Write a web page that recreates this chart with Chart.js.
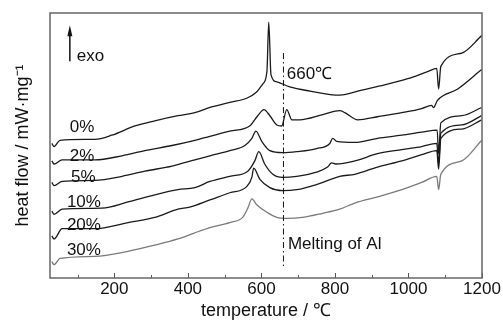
<!DOCTYPE html>
<html lang="en">
<head>
    <meta charset="UTF-8">
    <title>DSC curves</title>
    <script src="https://cdn.jsdelivr.net/npm/chart.js"></script>
    <style>
        body {
            margin: 0;
            background: white;
        }
        .chart-container {
            width: 503px;
            height: 322px;
        }
    </style>
</head>
<body>
    <div class="chart-container">
        <canvas id="dscChart"></canvas>
    </div>
    <script>
        // data (heat flow in arbitrary units, exo up)
        const seriesNames = ['0%', '2%', '5%', '10%', '20%', '30%'];
        const xTicks = [200, 400, 600, 800, 1000, 1200];
        const xMinorTicks = [100, 300, 500, 700, 900, 1100];

        const temp0 = [30, 36, 52, 147, 193, 256, 310, 373, 419, 460, 514, 560, 587, 604, 615, 620, 626, 642, 677, 732, 813, 873, 935, 998, 1052, 1077, 1082, 1088, 1145, 1199];
        const flow0 = [13.1, 12.8, 13.4, 13.5, 13.9, 14.8, 15.3, 15.8, 16.1, 16.6, 17.1, 17.5, 18.1, 18.9, 20.1, 24.9, 19.8, 19.1, 18.6, 18.2, 17.8, 18.3, 18.8, 19.4, 20.1, 20.4, 18.4, 20.6, 21.9, 23.6];

        const temp2 = [30, 36, 58, 147, 221, 283, 357, 419, 460, 514, 568, 590, 607, 623, 642, 655, 669, 683, 704, 767, 813, 827, 862, 916, 982, 1036, 1063, 1068, 1079, 1134, 1199];
        const flow2 = [11.4, 11.1, 11.5, 11.5, 11.9, 12.4, 12.9, 13.4, 13.8, 14.3, 14.8, 15.8, 16.4, 15.8, 14.9, 14.8, 16.4, 15.4, 15.4, 15.9, 16.3, 16.1, 15.4, 15.7, 16.1, 16.5, 16.8, 16.6, 17.3, 18.4, 20.3];

        const temp5 = [30, 36, 58, 147, 221, 283, 357, 419, 460, 514, 555, 574, 585, 601, 623, 658, 696, 750, 786, 794, 805, 854, 916, 982, 1036, 1078, 1082, 1088, 1145, 1199];
        const flow5 = [9.3, 9.0, 9.4, 9.5, 9.9, 10.4, 10.9, 11.5, 11.9, 12.4, 12.9, 13.6, 14.3, 13.3, 12.4, 12.2, 12.3, 12.6, 13.1, 13.6, 13.3, 13.2, 13.6, 13.9, 14.2, 14.4, 12.1, 15.1, 15.8, 16.6];

        const temp10 = [30, 36, 58, 166, 237, 310, 373, 419, 460, 514, 563, 582, 593, 609, 631, 658, 696, 750, 780, 791, 802, 854, 916, 982, 1036, 1077, 1082, 1088, 1145, 1199];
        const flow10 = [6.5, 6.2, 6.7, 6.8, 7.4, 8.1, 8.6, 8.8, 9.4, 9.9, 10.4, 11.4, 12.3, 11.1, 10.1, 9.8, 9.9, 10.3, 10.8, 11.2, 11.1, 11.4, 12.1, 12.5, 12.8, 13.1, 11.1, 14.1, 14.9, 15.8];

        const temp20 = [30, 36, 58, 147, 237, 310, 373, 405, 460, 514, 560, 574, 579, 596, 623, 658, 696, 750, 813, 854, 916, 982, 1036, 1077, 1082, 1088, 1145, 1199];
        const flow20 = [4.1, 3.8, 4.8, 4.8, 5.4, 5.9, 6.7, 6.9, 7.6, 8.3, 8.9, 9.8, 10.7, 9.6, 8.8, 8.5, 8.6, 9.1, 9.9, 10.1, 10.8, 11.4, 12.0, 12.4, 10.6, 13.6, 14.5, 15.4];

        const temp30 = [30, 36, 52, 147, 237, 310, 373, 419, 460, 514, 549, 563, 574, 588, 615, 642, 669, 712, 767, 813, 854, 916, 982, 1036, 1077, 1082, 1088, 1145, 1199];
        const flow30 = [1.6, 1.3, 1.9, 2.1, 2.6, 3.2, 3.8, 4.4, 4.9, 5.4, 5.9, 6.8, 7.7, 7.1, 6.4, 5.9, 5.8, 5.9, 6.3, 6.7, 7.3, 7.9, 8.6, 9.3, 9.9, 8.6, 10.1, 11.4, 13.4];

        const temps = [temp0, temp2, temp5, temp10, temp20, temp30];
        const flows = [flow0, flow2, flow5, flow10, flow20, flow30];
        const lineColors = ['#1a1a1a', '#1a1a1a', '#1a1a1a', '#1a1a1a', '#1a1a1a', '#7a7a7a'];

        const FONT = "'Liberation Sans', Arial, sans-serif";

        // frame, inward ticks, 660 line and the text notes
        const decorations = {
            id: 'decorations',
            afterDatasetsDraw(chart) {
                const {ctx, chartArea: a, scales: {x, y}} = chart;
                ctx.save();

                // inward tick marks on the bottom axis
                ctx.strokeStyle = '#555';
                ctx.lineWidth = 1;
                ctx.beginPath();
                xTicks.forEach(v => {
                    const px = Math.round(x.getPixelForValue(v)) + 0.5;
                    ctx.moveTo(px, a.bottom);
                    ctx.lineTo(px, a.bottom - 5);
                });
                xMinorTicks.forEach(v => {
                    const px = Math.round(x.getPixelForValue(v)) + 0.5;
                    ctx.moveTo(px, a.bottom);
                    ctx.lineTo(px, a.bottom - 3);
                });
                ctx.stroke();

                // frame
                ctx.strokeStyle = '#666';
                ctx.lineWidth = 1.5;
                ctx.strokeRect(a.left, a.top, a.right - a.left, a.bottom - a.top);

                // dash-dot line at the melting point of Al
                const mx = x.getPixelForValue(660);
                ctx.strokeStyle = '#111';
                ctx.lineWidth = 1;
                ctx.setLineDash([6, 3, 1.5, 3]);
                ctx.beginPath();
                ctx.moveTo(mx, y.getPixelForValue(21.9));
                ctx.lineTo(mx, y.getPixelForValue(1.1));
                ctx.stroke();
                ctx.setLineDash([]);

                // exo arrow
                const ax = x.getPixelForValue(79);
                const ayTop = y.getPixelForValue(24.6);
                const ayBot = y.getPixelForValue(21.1);
                ctx.strokeStyle = '#111';
                ctx.fillStyle = '#111';
                ctx.lineWidth = 1.5;
                ctx.beginPath();
                ctx.moveTo(ax, ayBot);
                ctx.lineTo(ax, ayTop + 8);
                ctx.stroke();
                ctx.beginPath();
                ctx.moveTo(ax, ayTop);
                ctx.lineTo(ax - 2.5, ayTop + 11);
                ctx.lineTo(ax + 2.5, ayTop + 11);
                ctx.closePath();
                ctx.fill();

                ctx.textBaseline = 'alphabetic';
                ctx.textAlign = 'left';
                ctx.font = '17px ' + FONT;
                ctx.fillStyle = '#111';
                ctx.fillText('exo', x.getPixelForValue(98), y.getPixelForValue(21.1));

                // series labels
                const labelAt = [[79, 14.2], [79, 11.4], [82, 9.3], [71, 6.9], [71, 4.7], [71, 2.2]];
                seriesNames.forEach((name, i) => {
                    ctx.fillText(name, x.getPixelForValue(labelAt[i][0]), y.getPixelForValue(labelAt[i][1]));
                });

                ctx.fillText('660\u2103', x.getPixelForValue(669), y.getPixelForValue(19.4));
                ctx.fillText('Melting of Al', x.getPixelForValue(672), y.getPixelForValue(2.8));
                ctx.restore();
            }
        };

        const ctx = document.getElementById('dscChart').getContext('2d');
        const chart = new Chart(ctx, {
            type: 'line',
            data: {
                datasets: seriesNames.map((name, i) => ({
                    label: name,
                    data: temps[i].map((t, j) => ({x: t, y: flows[i][j]})),
                    borderColor: lineColors[i],
                    borderWidth: 1.3,
                    pointRadius: 0,
                    cubicInterpolationMode: 'monotone',
                    fill: false
                }))
            },
            options: {
                responsive: true,
                maintainAspectRatio: false,
                animation: false,
                layout: {
                    padding: {top: 13, right: 21, left: 0, bottom: 0}
                },
                scales: {
                    x: {
                        type: 'linear',
                        min: 25,
                        max: 1200,
                        afterBuildTicks: scale => {
                            scale.ticks = xTicks.map(v => ({value: v}));
                        },
                        grid: {display: false, drawTicks: false},
                        border: {display: false},
                        ticks: {
                            color: '#111',
                            padding: 1,
                            maxRotation: 0,
                            callback: v => String(v),
                            font: {family: FONT, size: 17}
                        },
                        title: {
                            display: true,
                            text: 'temperature / \u2103',
                            color: '#111',
                            padding: {top: 0, bottom: 0},
                            font: {family: FONT, size: 18}
                        }
                    },
                    y: {
                        min: 0,
                        max: 25.8,
                        grid: {display: false, drawTicks: false},
                        border: {display: false},
                        ticks: {display: false},
                        title: {
                            display: true,
                            text: 'heat flow / mW\u00b7mg\u207b\u00b9',
                            color: '#111',
                            padding: {top: 12, bottom: 16.4},
                            font: {family: FONT, size: 18}
                        }
                    }
                },
                plugins: {
                    legend: {display: false},
                    tooltip: {enabled: false}
                }
            },
            plugins: [decorations]
        });
    </script>
</body>
</html>
